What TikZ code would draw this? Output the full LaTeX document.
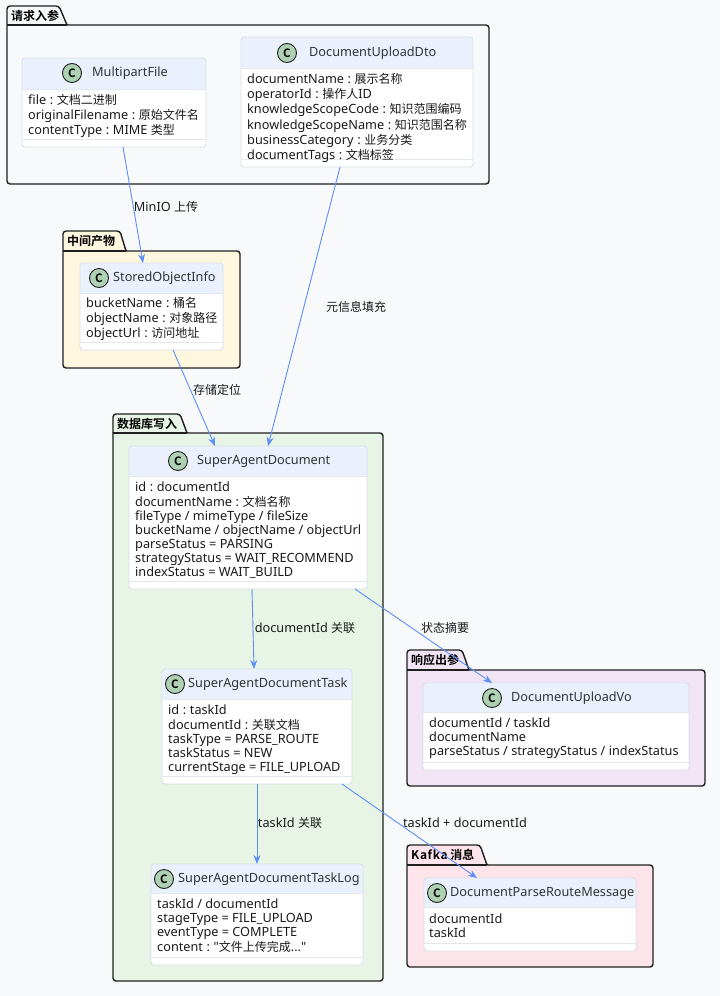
\documentclass[tikz,border=0pt]{standalone}
\usepackage{fontspec}
\setmainfont{Noto Sans}[Scale=1.06]
\newfontfamily\cjk{Noto Sans CJK SC}[BoldFont={Noto Sans CJK SC Bold}]
\usetikzlibrary{arrows.meta,calc}
\newcommand\zh[1]{{\cjk #1}}
\newcommand\cln{\hspace{3.6pt}:\hspace{3.6pt}}
\definecolor{bgc}{HTML}{F8F9FB}
\definecolor{hdrc}{HTML}{EAF1FC}
\definecolor{boxc}{HTML}{D9E0EA}
\definecolor{sepc}{HTML}{E4E8EE}
\definecolor{edgec}{HTML}{5B8FF9}
\definecolor{badgec}{HTML}{ADD1B2}
\definecolor{pkgA}{HTML}{F8F9FB}
\definecolor{pkgB}{HTML}{FEF7E0}
\definecolor{pkgC}{HTML}{E8F4E6}
\definecolor{pkgD}{HTML}{F1E4F4}
\definecolor{pkgE}{HTML}{FCE4EA}
\definecolor{txt}{HTML}{1A1A1A}
\definecolor{ttl}{HTML}{333333}
\definecolor{pkgl}{HTML}{1F1F1F}
\newcommand\pkgbox[8]{% x1, tabtop, bodytop, x2, y2, tab top-right, tab bottom-right, fill
  \draw[pkgline,fill=#8] (#1,#5) [rounded corners=3pt] -- (#1,#2) -- (#6,#2) [rounded corners=1pt] -- (#7,#3) [rounded corners=3pt] -- (#4,#3) -- (#4,#5) -- cycle;
  \draw[pkgline] (#1,#3) -- (#7,#3);
}
\newcommand\classbox[7]{% name, x1, y1, x2, y2, header bottom, separator
  \node[classnode, anchor=north west, minimum width={(#4-#2)*1pt}, minimum height={(#5-#3)*1pt}] (#1) at (#2,#3) {};
  \begin{scope}
    \clip[rounded corners=3pt] (#2,#3) rectangle (#4,#5);
    \fill[white] (#2,#3) rectangle (#4,#5);
    \fill[hdrc] (#2,#3) rectangle (#4,#6);
    \draw[sepc, line width=0.8pt] (#2,#6) -- (#4,#6);
    \draw[sepc, line width=0.8pt] (#2,#7) -- (#4,#7);
  \end{scope}
  \draw[boxc, line width=0.9pt, rounded corners=3pt] (#2,#3) rectangle (#4,#5);
}
\begin{document}
\begin{tikzpicture}[x=1pt,y=-1pt,
  pkgline/.style={draw=pkgl, line width=1.4pt},
  pkgtitle/.style={anchor=west, inner sep=0pt, font=\fontsize{12}{14}\selectfont\cjk\bfseries, text=black},
  classnode/.style={rectangle, inner sep=0pt, outer sep=0pt, draw=none},
  badge/.style={circle, draw=pkgl, line width=0.9pt, fill=badgec, minimum size=19pt, inner sep=0pt, font=\fontsize{11.5}{12}\selectfont\cjk\bfseries},
  ctitle/.style={anchor=west, inner sep=0pt, font=\fontsize{12}{14}\selectfont, text=ttl},
  attrs/.style={anchor=north west, inner sep=0pt, align=left, font=\fontsize{12}{14}\selectfont, text=txt},
  elabel/.style={inner sep=1pt, font=\fontsize{12}{14}\selectfont, text=txt},
  edge/.style={draw=edgec, line width=0.9pt, -{Stealth[length=9pt,width=7pt,inset=3pt]}}
]
\useasboundingbox (0,0) rectangle (720,996);
\fill[bgc] (0,0) rectangle (720,996);

% packages
\pkgbox{7}{6}{25}{489}{184}{59}{67}{pkgA}
\node[pkgtitle] (pA) at (11,15.5) {请求入参};
\pkgbox{63}{231}{251}{240}{368}{120}{126}{pkgB}
\node[pkgtitle] (pB) at (67,241) {中间产物};
\pkgbox{113}{414}{433}{383}{981}{180}{187}{pkgC}
\node[pkgtitle] (pC) at (117,423.5) {数据库写入};
\pkgbox{407}{650}{670}{705}{786}{462}{469}{pkgD}
\node[pkgtitle] (pD) at (411,660) {响应出参};
\pkgbox{407}{845}{865}{653}{967}{480}{487}{pkgE}
\node[pkgtitle] (pE) at (411,855) {K\kern0.6pt a\kern0.6pt f\kern0.6pt k\kern0.6pt a 消息};

% classes
\classbox{mf}{22}{58}{206}{147}{89}{139}
\node[badge] (mfc) at (72,73) {C};
\node[ctitle] (mft) at (92,73) {MultipartFile};
\node[attrs] (mfa) at (28,94) {\strut file\cln\zh{文档二进制}\\\strut originalFilename\cln\zh{原始文件名}\\\strut contentType\cln MIME \zh{类型}};

\classbox{dto}{241}{37}{473}{167}{68}{159}
\node[badge] (dtoc) at (287,53) {C};
\node[ctitle] (dtot) at (309,53) {DocumentUploadDto};
\node[attrs] (dtoa) at (247,73) {\strut documentName\cln\zh{展示名称}\\\strut operatorId\cln\zh{操作人}ID\\\strut knowledgeScopeCode\cln\zh{知识范围编码}\\\strut knowledgeScopeName\cln\zh{知识范围名称}\\\strut businessCategory\cln\zh{业务分类}\\\strut documentTags\cln\zh{文档标签}};

\classbox{soi}{80}{263}{223}{350}{293}{342}
\node[badge] (soic) at (99,278) {C};
\node[ctitle] (soit) at (113,278) {StoredObjectInfo};
\node[attrs] (soia) at (86,297) {\strut bucketName\cln\zh{桶名}\\\strut objectName\cln\zh{对象路径}\\\strut objectUrl\cln\zh{访问地址}};

\classbox{sad}{129}{446}{367}{589}{476}{581}
\node[badge] (sadc) at (178,461) {C};
\node[ctitle] (sadt) at (197,461) {SuperAgentDocument};
\node[attrs] (sada) at (135,481) {\strut id\cln documentId\\\strut documentName\cln\zh{文档名称}\\\strut fileType / mimeType / fileSize\\\strut bucketName / objectName / objectUrl\\\strut parseStatus = PARSING\\\strut strategyStatus = WAIT\_RECOMMEND\\\strut indexStatus = WAIT\_BUILD};

\classbox{task}{162}{669}{352}{784}{699}{776}
\node[badge] (taskc) at (175,684) {C};
\node[ctitle] (taskt) at (188,684) {SuperAgentDocumentTask};
\node[attrs] (taska) at (168,704) {\strut id\cln taskId\\\strut documentId\cln\zh{关联文档}\\\strut taskType = PARSE\_ROUTE\\\strut taskStatus = NEW\\\strut currentStage = FILE\_UPLOAD};

\classbox{log}{151}{864}{363}{965}{893}{957}
\node[badge] (logc) at (164,879) {C};
\node[ctitle] (logt) at (178,879) {SuperAgentDocumentTaskLog};
\node[attrs] (loga) at (157,898) {\strut taskId / documentId\\\strut stageType = FILE\_UPLOAD\\\strut eventType = COMPLETE\\\strut content\cln\textquotedbl\zh{文件上传完成}...\textquotedbl};

\classbox{vo}{423}{683}{689}{770}{712}{762}
\node[badge] (voc) at (492,698) {C};
\node[ctitle] (vot) at (511,698) {DocumentUploadVo};
\node[attrs] (voa) at (429,717) {\strut documentId / taskId\\\strut documentName\\\strut parseStatus / strategyStatus / indexStatus};

\classbox{msg}{424}{878}{636}{951}{907}{943}
\node[badge] (msgc) at (437,893) {C};
\node[ctitle] (msgt) at (450,893) {DocumentParseRouteMessage};
\node[attrs] (msga) at (429,913) {\strut documentId\\\strut taskId};

% edges
\draw[edge] ([xshift=9pt]mf.south) -- ([xshift=-8.5pt]soi.north);
\draw[edge] ([xshift=-17pt]dto.south) -- ([xshift=20pt]sad.north);
\draw[edge] ([xshift=21.5pt]soi.south) -- ([xshift=-33pt]sad.north);
\draw[edge] ([xshift=4pt]sad.south) -- ([xshift=-3pt]task.north);
\draw[edge] ([xshift=107pt]sad.south) -- ([xshift=-64pt]vo.north);
\draw[edge] (task.south) -- (log.north);
\draw[edge] ([xshift=85pt]task.south) -- ([xshift=-53pt]msg.north);

% edge labels
\node[elabel] (l1) at (166,207) {MinIO \zh{上传}};
\node[elabel] (l2) at (356,307) {\zh{元信息填充}};
\node[elabel] (l3) at (217,390) {\zh{存储定位}};
\node[elabel] (l4) at (305,628) {documentId \zh{关联}};
\node[elabel] (l5) at (445,628) {\zh{状态摘要}};
\node[elabel] (l6) at (290,823) {taskId \zh{关联}};
\node[elabel] (l7) at (465,823) {taskId + documentId};
\end{tikzpicture}
\end{document}
